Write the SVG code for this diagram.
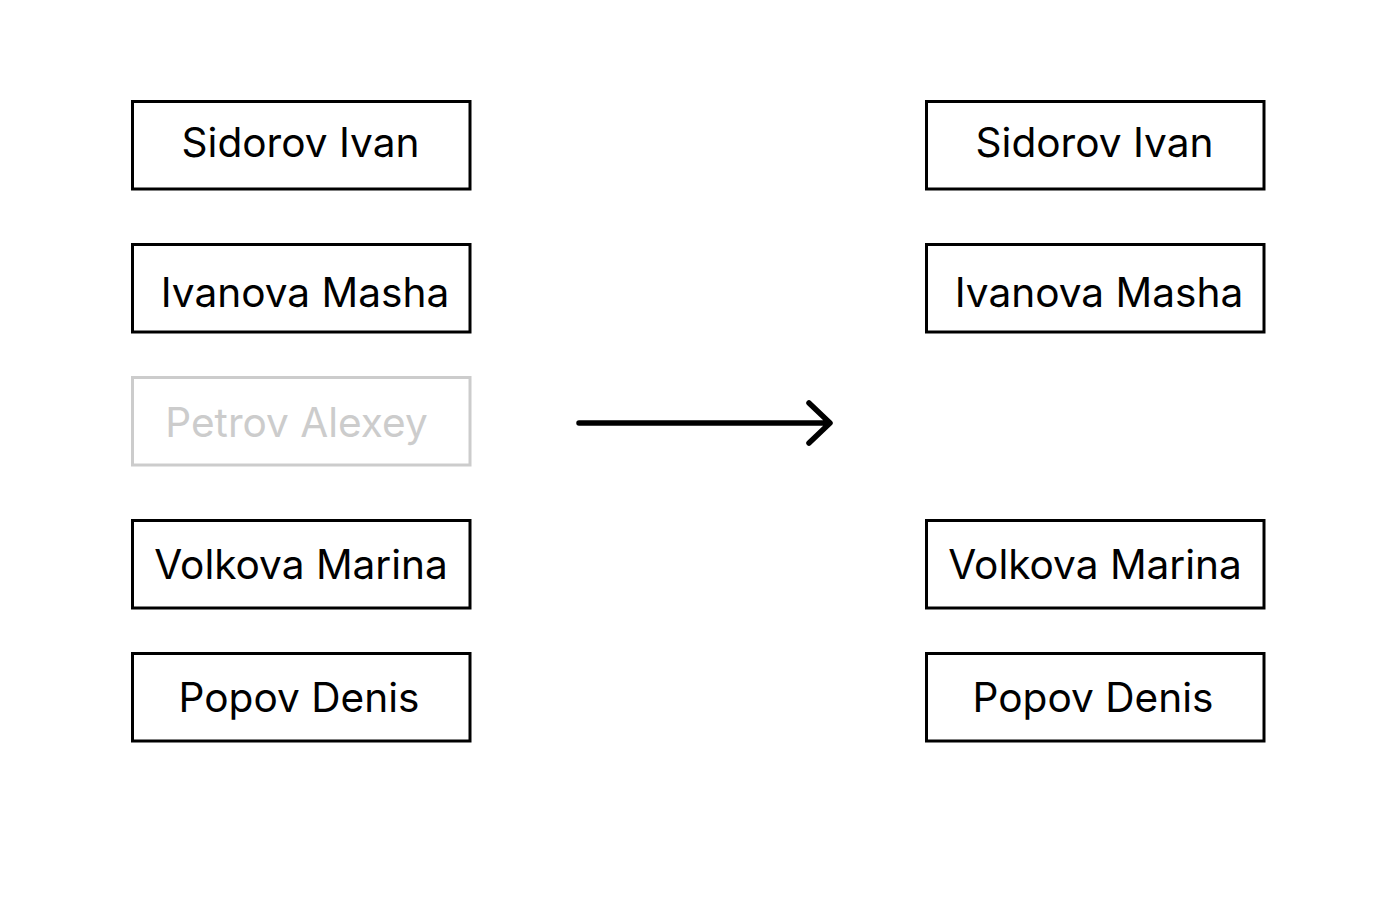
<svg xmlns="http://www.w3.org/2000/svg" width="1390" height="914" viewBox="0 0 1390 914">
<style>
.box{fill:#fff;stroke:#000;stroke-width:3}
.box.dim{stroke:#cccccc}
.t{font-family:Inter,"Liberation Sans",sans-serif;font-size:40.6px;fill:#000;text-anchor:middle}
.t.dim{fill:#cccccc}
.arrow{fill:none;stroke:#000;stroke-width:5.5;stroke-linecap:round;stroke-linejoin:round}
</style>
<rect width="1390" height="914" fill="#fff"/>
<g id="l1"><rect class="box" x="132.5" y="101.5" width="337.5" height="87.5"/><text class="t" x="300.5" y="157">Sidorov Ivan</text></g>
<g id="l2"><rect class="box" x="132.5" y="244.5" width="337.5" height="87.5"/><text class="t" x="305" y="307">Ivanova Masha</text></g>
<g id="l3"><rect class="box dim" x="132.5" y="377.5" width="337.5" height="87.5"/><text class="t dim" x="296.5" y="437">Petrov Alexey</text></g>
<g id="l4"><rect class="box" x="132.5" y="520.5" width="337.5" height="87.5"/><text class="t" x="301" y="579">Volkova Marina</text></g>
<g id="l5"><rect class="box" x="132.5" y="653.5" width="337.5" height="87.5"/><text class="t" x="299" y="712">Popov Denis</text></g>
<g id="r1"><rect class="box" x="926.5" y="101.5" width="337.5" height="87.5"/><text class="t" x="1094.5" y="157">Sidorov Ivan</text></g>
<g id="r2"><rect class="box" x="926.5" y="244.5" width="337.5" height="87.5"/><text class="t" x="1099" y="307">Ivanova Masha</text></g>
<g id="r4"><rect class="box" x="926.5" y="520.5" width="337.5" height="87.5"/><text class="t" x="1095" y="579">Volkova Marina</text></g>
<g id="r5"><rect class="box" x="926.5" y="653.5" width="337.5" height="87.5"/><text class="t" x="1093" y="712">Popov Denis</text></g>
<g id="connectors"><path class="arrow" d="M579 423 H829 M809 403 L830 423 L809 443"/></g>
</svg>
